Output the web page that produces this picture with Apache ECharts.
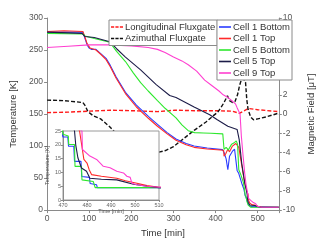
<!DOCTYPE html>
<html><head><meta charset="utf-8">
<script src="https://cdn.jsdelivr.net/npm/echarts@6/dist/echarts.min.js"></script>
<style>html,body{margin:0;padding:0;background:#fff}#c{width:324px;height:243px}</style>
</head><body><div id="c"></div>
<script>
// [time (min), temperature (K)]
const cell1Bottom = [[0,278],[85,278],[90,268],[95,258],[100,253],[105,251],[116,251],[128,244],[140,237],[150,226],[164,208],[186,184],[212,164],[241,146],[262,134],[285,121],[306,111],[330,104],[349,100],[380,97],[416,94.5],[420,90],[425,80],[429,63],[433,84],[440,92],[445,95],[449,92],[451,62],[455,57],[459,55],[462,42],[467,33],[470,22.8],[472,22.8],[472.3,19.5],[474.5,19.5],[474.8,14],[477.5,14],[477.8,8.5],[481,8.2],[481.3,6],[484,5.5],[484.3,4.5],[550,4.5]];
const cell1Top = [[0,279],[40,280],[85,279],[90,270],[95,260],[102,253],[116,250],[128,243],[140,235],[150,224],[164,206],[186,182],[212,161],[241,143],[262,131],[285,119],[306,109],[330,102],[349,98],[380,95.5],[419,93.5],[420,84],[424,88],[429,95],[433,91],[440,100],[448,104],[455,98],[462,70],[469,43],[474,30],[476.9,25],[478.7,14.7],[480,13.4],[480.9,11],[481.9,9.2],[486,8.6],[492.4,7.9],[496,7],[500.8,6.1],[505,5.2],[510,4.6],[520,4.5],[550,4.5]];
const cell5Bottom = [[0,276],[85,275],[90,272],[112,268],[149,262],[165,248],[186,232],[205,214],[222,199],[240,186],[262,171],[280,159],[306,144],[320,133],[335,124],[350,121],[371,120.5],[389,120],[417,119],[420,95],[425,98],[430,94],[438,103],[444,105],[449,108],[452,103],[455,63],[460,55],[466,43],[469,30],[470,23.8],[472.2,23.2],[472.4,20.1],[474.8,20.1],[475,12.2],[477.7,12.2],[477.9,7.3],[482.6,6.7],[483.4,4.5],[550,4.5]];
const cell5Top = [[0,278],[83,276],[90,271],[112,269.5],[149,263],[165,252],[186,239],[222,219],[259,196],[291,179],[306,176],[349,161],[386,149],[404,141],[429,131],[451,126],[456,110],[462,73],[469,43],[472,34],[474.8,25],[475.3,20],[476.2,15.3],[477.7,11.6],[479.8,10.4],[481.2,7.9],[486,7.5],[492.4,7.3],[499.4,5.7],[505,5],[510,4.5],[550,4.4]];
const cell9Top = [[0,254],[50,256],[100,258],[150,258],[200,256.5],[240,254],[262,251],[280,246],[300,239],[320,233],[335,227],[355,217],[374,203],[390,195],[408,186],[418,180],[429,176],[440,170],[447,166],[451,160],[458,150],[461,116],[465,86],[469,58],[472,41],[476,26],[477.9,25],[478.1,18.3],[481.2,15.9],[484,14.7],[486.8,12.2],[489.6,11.7],[492.4,10.4],[495.2,9.8],[496.6,8.6],[498,8.2],[498.7,6.1],[500.8,5.5],[505,5],[510,4.6],[550,4.5]];
// [time (min), magnetic field (uT)]
const longitudinal = [[0,0.15],[50,0.2],[100,0.3],[150,0.4],[200,0.35],[262,0.25],[303,0.4],[350,0.35],[400,0.35],[440,0.3],[456,0.08],[466,0.3],[478,0.58],[500,0.45],[550,0.25]];
const azimuthal = [[0,1.45],[40,1.4],[85,1.2],[90,0.9],[97,0.25],[110,-0.2],[127,-0.5],[148,-1.3],[170,-2.3],[195,-3.2],[220,-3.9],[240,-4.2],[262,-4.0],[281,-3.8],[300,-3.4],[320,-2.7],[349,-1.7],[378,-0.8],[391,-0.3],[405,0.2],[413,0.7],[420,1.2],[428,1.9],[433,1.4],[440,1.2],[446,1.3],[452,2.0],[457,3.0],[462,3.7],[467,3.6],[471,3.3],[474,1.5],[477,0.5],[483,-0.3],[490,-0.6],[500,-0.5],[520,-0.3],[550,0.1]];

const tempNames = ['Cell 1 Bottom','Cell 1 Top','Cell 5 Bottom','Cell 5 Top','Cell 9 Top'];
const tempData = [cell1Bottom, cell1Top, cell5Bottom, cell5Top, cell9Top];
const tempColors = ['#2a3cff','#ff2a2a','#2ee82e','#1c1c48','#ff3fd0'];
const fieldNames = ['Longitudinal Fluxgate','Azimuthal Fluxgate'];
const fieldData = [longitudinal, azimuthal];
const fieldColors = ['#ff1a1a','#111111'];

const FONT = 'Liberation Sans';
const DASH_ICON = 'path://M0,0h5v2h-5z M7,0h5v2h-5z M14,0h5v2h-5z';
const chart = echarts.init(document.getElementById('c'), null, {renderer:'canvas'});
const series = [];
fieldNames.forEach((n,i)=>series.push({name:n,type:'line',xAxisIndex:0,yAxisIndex:1,data:fieldData[i],symbol:'none',
  lineStyle:{color:fieldColors[i],width:1.4,type:[4,2]},itemStyle:{color:fieldColors[i]},z:2}));
tempNames.forEach((n,i)=>series.push({name:n,type:'line',xAxisIndex:0,yAxisIndex:0,data:tempData[i],symbol:'none',
  lineStyle:{color:tempColors[i],width:1.1},itemStyle:{color:tempColors[i]},z:3}));
tempNames.forEach((n,i)=>series.push({name:n,type:'line',xAxisIndex:1,yAxisIndex:2,data:tempData[i],symbol:'none',clip:true,
  lineStyle:{color:tempColors[i],width:1.1},itemStyle:{color:tempColors[i]},zlevel:1,z:3,
  markLine: i===0 ? {silent:true,symbol:'none',label:{show:false},lineStyle:{color:'#c8c8c8',width:1,type:'solid'},data:[{yAxis:10}]} : undefined}));

const axisCommon = {axisLine:{show:true,lineStyle:{color:'#8a8a8a'}},axisTick:{show:true,length:3,lineStyle:{color:'#8a8a8a'}},splitLine:{show:false}};
const legendCommon = {orient:'vertical',backgroundColor:'#fff',borderColor:'#8a8a8a',borderWidth:1,borderRadius:0,
  itemWidth:12,itemHeight:1.6,itemGap:1.5,padding:[2,2,2,2],textStyle:{fontFamily:FONT,fontSize:9.5,color:'#333',padding:[0,0,0,-3]}};

chart.setOption({
  animation:false,
  textStyle:{fontFamily:FONT},
  legend:[
    Object.assign({},legendCommon,{data:fieldNames.map(n=>({name:n,icon:DASH_ICON})),left:109,top:20}),
    Object.assign({},legendCommon,{data:tempNames.map(n=>({name:n,icon:'rect'})),right:32,top:20})
  ],
  grid:[
    {left:42,right:32,top:18,bottom:26,show:false},
    {left:63,top:131,width:96,height:69,show:true,backgroundColor:'#fff',borderColor:'#9a9a9a',borderWidth:1,zlevel:1,z:0}
  ],
  xAxis:[
    Object.assign({},axisCommon,{type:'value',gridIndex:0,min:0,max:550,interval:100,
      axisLabel:{fontSize:8.5,color:'#555',margin:4,formatter:v=>v%100===0&&v<=500?String(v):''},
      name:'Time [min]',nameLocation:'middle',nameGap:14,nameTextStyle:{fontSize:9.5,color:'#333'}}),
    Object.assign({},axisCommon,{type:'value',gridIndex:1,min:470,max:510,interval:10,zlevel:1,
      axisTick:{show:true,length:2,lineStyle:{color:'#8a8a8a'}},
      axisLabel:{fontSize:5.5,color:'#666',margin:2},
      name:'Time [min]',nameLocation:'middle',nameGap:8,nameTextStyle:{fontSize:5.5,color:'#555'}})
  ],
  yAxis:[
    Object.assign({},axisCommon,{type:'value',gridIndex:0,min:0,max:300,interval:50,position:'left',
      axisLabel:{fontSize:8.5,color:'#555',margin:4},
      name:'Temperature [K]',nameLocation:'middle',nameGap:23,nameTextStyle:{fontSize:9.5,color:'#333'}}),
    Object.assign({},axisCommon,{type:'value',gridIndex:0,min:-10,max:10,interval:2,position:'right',
      axisLabel:{fontSize:8.5,color:'#555',margin:4},
      name:'Magnetic Field [μT]',nameLocation:'middle',nameGap:24,nameRotate:90,nameTextStyle:{fontSize:9.5,color:'#333'}}),
    Object.assign({},axisCommon,{type:'value',gridIndex:1,min:0,max:25,interval:5,zlevel:1,
      axisTick:{show:true,length:2,lineStyle:{color:'#8a8a8a'}},
      axisLabel:{fontSize:5.5,color:'#666',margin:2},
      name:'Temperature [K]',nameLocation:'middle',nameGap:8,nameTextStyle:{fontSize:5.5,color:'#555'}})
  ],
  series: series
});
</script></body></html>
